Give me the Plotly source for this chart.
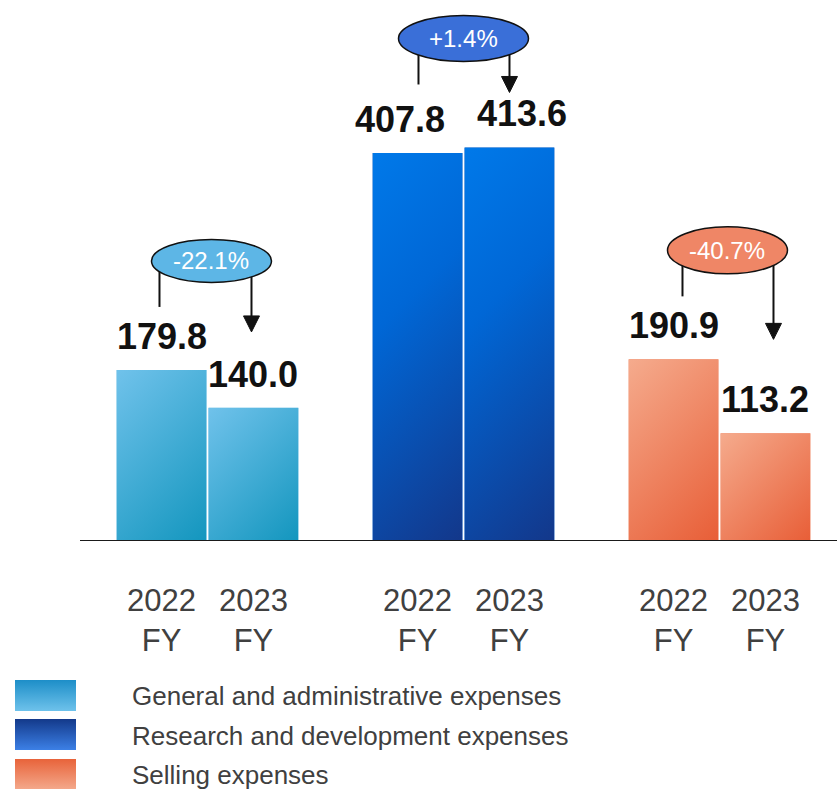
import base64
import plotly.graph_objects as go

# ---- data ----
categories = [
    "General and administrative expenses",
    "Research and development expenses",
    "Selling expenses",
]
fy2022 = [179.8, 407.8, 190.9]
fy2023 = [140.0, 413.6, 113.2]
period_labels = ["2022<br>FY", "2023<br>FY"]

# ---- geometry / style ----
W, H = 837, 789
M_B = 248
PLOT_H = H - M_B
Y_MAX = 568.6
Y_SCALE = PLOT_H / Y_MAX
X_MIN, X_MAX = -0.8105, 2.459
X_SCALE = W / (X_MAX - X_MIN)
BAR_W = 0.351
BAR_GAP = 0.008
FONT = "Liberation Sans, Arial, sans-serif"

bar_gradients = [
    [(0, "#70c2eb"), (1, "#1396be")],
    [(0, "#0079e9"), (0.38, "#0067d6"), (1, "#13378a")],
    [(0, "#f5ab8d"), (1, "#e85e37")],
]
legend_gradients = [
    [(0, "#1d8ec8"), (1, "#6ec2eb")],
    [(0, "#13398a"), (1, "#3c80e6")],
    [(0, "#e8633a"), (1, "#f4aa8d")],
]
base_colors = ["#45aede", "#0a5bc0", "#ef8560"]
bubble_fill = ["#5db6e6", "#3a6fd8", "#ef8666"]

label_dx = [[0, 0], [-18, 13], [0, 0]]
bubble_dx = [4, 0, 8]
bubble_w = [120, 130, 120]
bubble_h = [43, 46, 47]
BUBBLE_RISE = 109
stem_dx = [-48, -45, -37]
STEM_END = 63
arrow_dx = [44, 46, 54]
arrow_tip = [38, 55, 20]


def gradient_uri(stops, w_px, h_px, diagonal=True):
    if diagonal:
        d = (w_px + h_px) / 2
        x2, y2 = d, d
    else:
        x2, y2 = 0, h_px
    stop_xml = "".join(f"<stop offset='{o}' stop-color='{c}'/>" for o, c in stops)
    svg = (
        f"<svg xmlns='http://www.w3.org/2000/svg' width='{w_px:.1f}' height='{h_px:.1f}' "
        f"viewBox='0 0 {w_px:.1f} {h_px:.1f}' preserveAspectRatio='none'>"
        f"<defs><linearGradient id='g' gradientUnits='userSpaceOnUse' x1='0' y1='0' "
        f"x2='{x2:.1f}' y2='{y2:.1f}'>{stop_xml}</linearGradient></defs>"
        f"<rect width='{w_px:.1f}' height='{h_px:.1f}' fill='url(#g)'/></svg>"
    )
    return "data:image/svg+xml;base64," + base64.b64encode(svg.encode()).decode()


fig = go.Figure()
xs = list(range(len(categories)))
series = [(fy2022, -BAR_W - BAR_GAP / 2, "2022 FY"), (fy2023, BAR_GAP / 2, "2023 FY")]

for j, (vals, off, name) in enumerate(series):
    fig.add_bar(
        x=xs, y=vals, width=BAR_W, offset=off, name=name,
        marker=dict(color=base_colors, line_width=0),
        customdata=categories,
        hovertemplate="%{customdata}<br>" + name + ": %{y:.1f}<extra></extra>",
        showlegend=False,
    )
    for i, v in enumerate(vals):
        # gradient fill laid over each bar
        fig.add_layout_image(
            source=gradient_uri(bar_gradients[i], BAR_W * X_SCALE, v * Y_SCALE),
            xref="x", yref="y", x=i + off, y=v, sizex=BAR_W, sizey=v,
            xanchor="left", yanchor="top", sizing="stretch", layer="above",
        )
        fig.add_annotation(
            x=i + off + BAR_W / 2, y=v, text=f"{v:.1f}", showarrow=False,
            yanchor="bottom", yshift=11, xshift=label_dx[i][j],
            font=dict(family=FONT, size=36, color="#111111", weight="bold"),
        )

# change callouts
for i in xs:
    top = max(fy2022[i], fy2023[i])
    pct = (fy2023[i] - fy2022[i]) / fy2022[i] * 100
    common = dict(xref="x", yref="y", xsizemode="pixel", ysizemode="pixel",
                  xanchor=i, yanchor=top)
    fig.add_shape(type="line", x0=stem_dx[i], x1=stem_dx[i],
                  y0=BUBBLE_RISE, y1=STEM_END,
                  line=dict(color="#111111", width=2), **common)
    fig.add_shape(type="line", x0=arrow_dx[i], x1=arrow_dx[i],
                  y0=BUBBLE_RISE, y1=arrow_tip[i] + 14,
                  line=dict(color="#111111", width=2), **common)
    ax, ty = arrow_dx[i], arrow_tip[i]
    fig.add_shape(type="path",
                  path=f"M {ax - 8},{ty + 16} L {ax + 8},{ty + 16} L {ax},{ty} Z",
                  fillcolor="#111111", line=dict(color="#111111", width=1), **common)
    fig.add_shape(type="circle",
                  x0=bubble_dx[i] - bubble_w[i] / 2, x1=bubble_dx[i] + bubble_w[i] / 2,
                  y0=BUBBLE_RISE - bubble_h[i] / 2, y1=BUBBLE_RISE + bubble_h[i] / 2,
                  fillcolor=bubble_fill[i], line=dict(color="#111111", width=1.5),
                  **common)
    fig.add_annotation(
        x=i, y=top, xshift=bubble_dx[i], yshift=BUBBLE_RISE, yanchor="middle",
        text=f"{pct:+.1f}%", showarrow=False,
        font=dict(family=FONT, size=24, color="white"),
    )

# baseline
fig.add_shape(type="line", xref="paper", yref="y", x0=80 / W, x1=1, y0=0, y1=0,
              line=dict(color="#1a1a1a", width=2))

# legend rows
row_tops = [680, 719, 759]
row_mid = [696, 736, 775]
for i, name in enumerate(categories):
    fig.add_layout_image(
        source=gradient_uri(legend_gradients[i], 61, 31, diagonal=False),
        xref="paper", yref="paper", x=15 / W, y=(PLOT_H - row_tops[i]) / PLOT_H,
        sizex=61 / W, sizey=31 / PLOT_H, xanchor="left", yanchor="top",
        sizing="stretch", layer="above",
    )
    fig.add_annotation(
        xref="paper", yref="paper", x=130 / W, y=(PLOT_H - row_mid[i]) / PLOT_H,
        xanchor="left", yanchor="middle", text=name, showarrow=False,
        font=dict(family=FONT, size=26, color="#404040"),
    )

tickvals, ticktext = [], []
for i in xs:
    tickvals += [i - BAR_W / 2 - BAR_GAP / 2, i + BAR_W / 2 + BAR_GAP / 2]
    ticktext += period_labels

fig.update_layout(
    width=W, height=H,
    margin=dict(l=0, r=0, t=0, b=M_B, pad=0),
    paper_bgcolor="white", plot_bgcolor="white",
    barmode="overlay", showlegend=False,
    xaxis=dict(range=[X_MIN, X_MAX], tickmode="array", tickvals=tickvals,
               ticktext=ticktext, showgrid=False, zeroline=False, showline=False,
               ticks="", ticklabelstandoff=38,
               tickfont=dict(family=FONT, size=31, color="#404040"), fixedrange=True),
    yaxis=dict(range=[0, Y_MAX], visible=False, fixedrange=True),
)

fig.write_html("out.html")
